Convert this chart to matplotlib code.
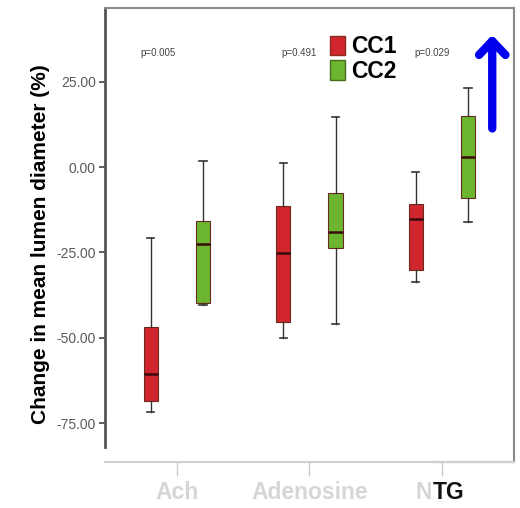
import numpy as np
import matplotlib
matplotlib.use("Agg")
import matplotlib.pyplot as plt

plt.rcParams['font.family'] = ['Liberation Sans', 'DejaVu Sans']

# groups and box statistics
categories = ['Ach', 'Adenosine', 'NTG']
p_values = ['p=0.005', 'p=0.491', 'p=0.029']

cc1_whislo = [-71.8, -50.0, -33.7]
cc1_q1 = [-68.6, -45.5, -30.2]
cc1_med = [-60.7, -25.2, -15.3]
cc1_q3 = [-46.9, -11.4, -10.8]
cc1_whishi = [-20.8, 1.2, -1.5]

cc2_whislo = [-40.3, -46.0, -16.1]
cc2_q1 = [-39.9, -23.8, -9.1]
cc2_med = [-22.6, -19.1, 2.9]
cc2_q3 = [-15.8, -7.6, 15.0]
cc2_whishi = [1.8, 14.7, 23.2]

red = '#d2262e'
green = '#6cb52e'


def make_stats(lo, q1, med, q3, hi):
    return [dict(whislo=a, q1=b, med=c, q3=d, whishi=e, fliers=[])
            for a, b, c, d, e in zip(lo, q1, med, q3, hi)]


fig = plt.figure(figsize=(5.2, 5.08), dpi=100)
ax = fig.add_axes([0.2019, 0.0906, 0.7865, 0.8937])

x = np.arange(len(categories))
off = 0.197
w = 0.106

for stats, pos, col in [
    (make_stats(cc1_whislo, cc1_q1, cc1_med, cc1_q3, cc1_whishi), x - off, red),
    (make_stats(cc2_whislo, cc2_q1, cc2_med, cc2_q3, cc2_whishi), x + off, green),
]:
    ax.bxp(stats, positions=pos, widths=w, patch_artist=True, showfliers=False,
           capwidths=0.055,
           boxprops=dict(facecolor=col, edgecolor='#6a2a20', linewidth=0.8),
           medianprops=dict(color='#3a0a0a', linewidth=1.8),
           whiskerprops=dict(color='#333333', linewidth=1.0),
           capprops=dict(color='#333333', linewidth=1.2))

ax.set_xlim(-0.543, 2.544)
ax.set_ylim(-86.4, 46.6)

ax.set_yticks([25, 0, -25, -50, -75])
ax.set_yticklabels(['25.00', '0.00', '-25.00', '-50.00', '-75.00'],
                   fontsize=10, color='#5a5a5a')
ax.tick_params(axis='y', length=4.5, width=1.2, color='#444444', pad=2)

ax.set_xticks(x)
ax.set_xticklabels(['Ach', 'Adenosine', ''], fontsize=16.5, fontweight='bold',
                   color='#d6d6d6')
ax.tick_params(axis='x', length=10, width=1.0, color='#cccccc', pad=4)
ax.get_xticklines()[4].set_color('#333333')
ax.get_xticklines()[4].set_linewidth(1.4)
ax.text(2 - 0.072, -0.043, 'N', transform=ax.get_xaxis_transform(),
        fontsize=16.5, fontweight='bold', color='#d6d6d6', ha='right', va='top')
ax.text(2 - 0.072, -0.043, 'TG', transform=ax.get_xaxis_transform(),
        fontsize=16.5, fontweight='bold', color='#111111', ha='left', va='top')

ax.set_ylabel('Change in mean lumen diameter (%)', fontsize=15,
              fontweight='bold')
ax.yaxis.set_label_coords(-0.134, 0.48)

# frame
ax.spines['left'].set_color('#555555')
ax.spines['left'].set_linewidth(2.0)
ax.spines['left'].set_bounds(-82.0, 46.6)
ax.spines['top'].set_color('#8a8a8a')
ax.spines['top'].set_linewidth(1.5)
ax.spines['right'].set_color('#8a8a8a')
ax.spines['right'].set_linewidth(1.5)
ax.spines['bottom'].set_color('#d0d0d0')
ax.spines['bottom'].set_linewidth(1.5)
ax.plot([0.80, 1.0], [0, 0], transform=ax.transAxes, color='#8a8a8a',
        lw=1.5, clip_on=False)

# p-values
for xi, p, dx in zip(x, p_values, [-0.14, -0.075, -0.075]):
    ax.text(xi + dx, 33.3, p, fontsize=7, color='#444444', ha='center',
            va='center')

# legend
ax.legend(handles=[plt.Rectangle((0, 0), 1, 1, fc=red, ec='#8a2a20'),
                   plt.Rectangle((0, 0), 1, 1, fc=green, ec='#4a6a20')],
          labels=['CC1', 'CC2'], loc='upper left',
          bbox_to_anchor=(0.51, 0.975), frameon=False,
          prop=dict(size=16.5, weight='bold'), handlelength=0.65,
          handleheight=0.95, handletextpad=0.3, labelspacing=0.05,
          borderpad=0.2)

# blue arrow
ax.annotate('', xy=(2.38, 39.5), xytext=(2.38, 10.5),
            arrowprops=dict(arrowstyle='->,head_length=1.0,head_width=0.95',
                            color='#0000ee', lw=6))

fig.savefig('out.png', dpi=100)
